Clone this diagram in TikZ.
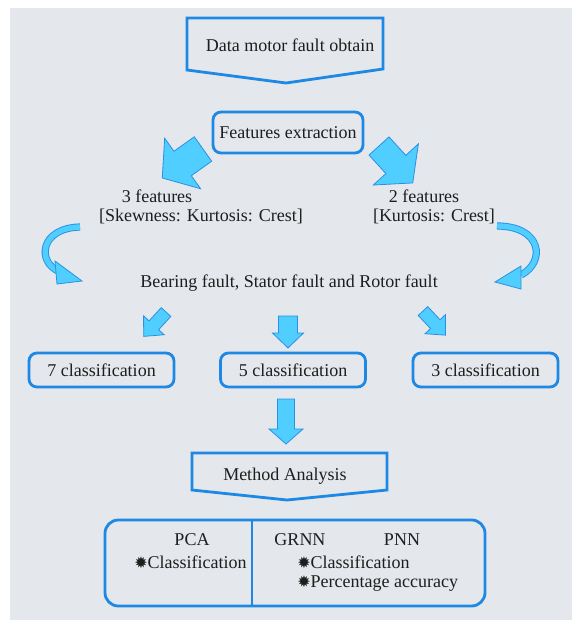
\documentclass[tikz,border=0pt]{standalone}
\usepackage{fontspec}
\setmainfont{Liberation Serif}
\newfontfamily\symfont{DejaVu Sans}
\usepackage{xcolor}
\usepackage{tikz}
\usetikzlibrary{positioning,calc}

\definecolor{bgGray}{RGB}{228,231,235}
\definecolor{boxBlue}{RGB}{30,136,229}
\definecolor{arrFill}{RGB}{80,206,255}
\definecolor{arrLine}{RGB}{40,145,230}
\definecolor{txtDark}{RGB}{30,30,30}

% block arrow: base x, base y, angle, length, shaft, head width, head length
\newcommand{\blockarrow}[7]{%
  \begin{scope}[shift={(#1,#2)}, rotate=#3]
    \draw[blk_arrow] (0,-#5/2) -- (#4-#7,-#5/2) -- (#4-#7,-#6/2) -- (#4,0)
      -- (#4-#7,#6/2) -- (#4-#7,#5/2) -- (0,#5/2) -- cycle;
  \end{scope}}
\newcommand{\bstar}{{\symfont\fontsize{12}{12}\selectfont ✹}}

\begin{document}
\begin{tikzpicture}[
						x=0.75pt, y=-0.75pt,
						lbl/.style={
							font=\fontsize{13.5}{16}\selectfont,
							text=txtDark, inner sep=0pt
						},
						box_line/.style={
							draw=boxBlue, line width=2.1pt
						},
						rbox/.style={
							box_line, rounded corners=6pt,
							font=\fontsize{13.5}{16}\selectfont, text=txtDark
						},
						blk_arrow/.style={
							fill=arrFill, draw=arrLine, line width=0.6pt, line join=miter
						},
						curve_band/.style={
							draw=arrLine, line width=0.7pt,
							double=arrFill, double distance=4pt
						}
						]
						\useasboundingbox (0,0) rectangle (573,622);
						\fill[bgGray] (10,8) rectangle (572,620);
						
						% === Data motor fault obtain ===
						\draw[box_line, line join=miter] (187,18) -- (383,18) -- (383,69) -- (286,83) -- (187,70) -- cycle;
						\node[lbl] (data) at (290,45) {Data motor fault obtain};
						
						% === Features extraction ===
						\node[rbox, minimum width=112.5pt, minimum height=30.75pt] (feat) at (288,132.5) {Features extraction};
						\blockarrow{203}{149}{215.4}{50}{30}{62}{25}
						\blockarrow{379}{146}{312.4}{50}{27}{61}{25}
						
						% 3 features / 2 features
						\node[lbl] (three) at (157,196) {3 features};
						\node[lbl] (skew) at (201,216) {[Skewness: Kurtosis: Crest]};
						\node[lbl] (two) at (424,196) {2 features};
						\node[lbl] (kurt) at (434,216) {[Kurtosis: Crest]};
						
						% curved arrows
						\draw[curve_band] (80,227) .. controls (40,228) and (36,262) .. (60,272);
						\draw[blk_arrow] (55,261) -- (82,281) -- (57,284) -- cycle;
						\draw[curve_band] (497,226) .. controls (542,226) and (546,262) .. (521,275);
						\draw[blk_arrow] (521,266) -- (495,282) -- (521,289) -- cycle;
						
						\node[lbl] (fault) at (289,283) {Bearing fault, Stator fault and Rotor fault};
						
						% small arrows to the classifications
						\blockarrow{166}{312}{227.6}{33}{13}{28}{15}
						\blockarrow{288}{316}{270}{32}{19}{31}{15}
						\blockarrow{423}{311}{313}{33}{13}{28}{15}
						
						% === classification boxes ===
						\node[rbox, minimum width=108.75pt, minimum height=25.5pt] (c7) at (101.5,370) {7 classification};
						\node[rbox, minimum width=108.75pt, minimum height=25.5pt] (c5) at (293,370) {5 classification};
						\node[rbox, minimum width=108.75pt, minimum height=25.5pt] (c3) at (485.5,370) {3 classification};
						
						\blockarrow{286}{399}{270}{45}{17}{34}{15}
						
						% === Method Analysis ===
						\draw[box_line, line join=miter] (192,453) -- (387,453) -- (387,490) -- (287,500) -- (192,490) -- cycle;
						\node[lbl] (method) at (285,476) {Method Analysis};
						
						% === methods box ===
						\draw[box_line, rounded corners=10pt] (105,520) rectangle (485,606);
						\draw[box_line] (252,520) -- (252,606);
						\node[lbl] (pca) at (192,540) {PCA};
						\node[lbl, anchor=west] (cls1) at (134,562) {\bstar Classification};
						\node[lbl] (grnn) at (300,540) {GRNN};
						\node[lbl] (pnn) at (402,540) {PNN};
						\node[lbl, anchor=west] (cls2) at (297,562) {\bstar Classification};
						\node[lbl, anchor=west] (pct) at (297,583) {\bstar Percentage accuracy};
						
					\end{tikzpicture}
\end{document}
